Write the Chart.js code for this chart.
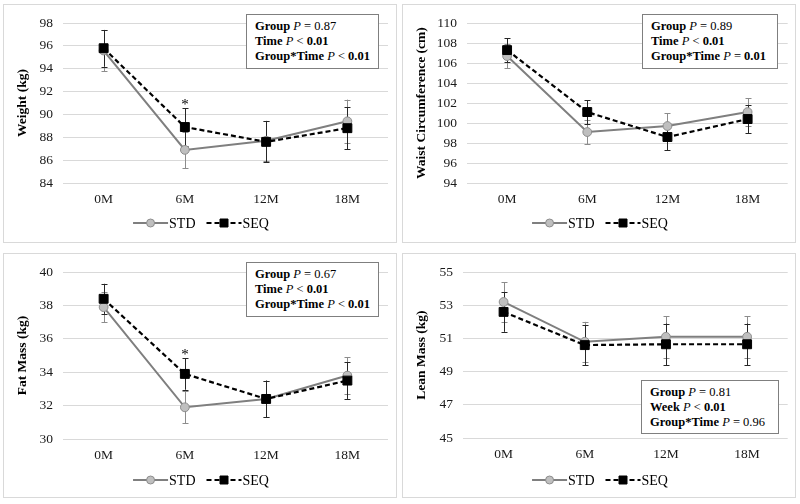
<!DOCTYPE html>
<html><head><meta charset="utf-8">
<script src="https://cdn.jsdelivr.net/npm/chart.js@4/dist/chart.umd.min.js"></script>
<style>
body{margin:0;background:#fff;width:800px;height:504px;position:relative;overflow:hidden;font-family:"Times New Roman","Liberation Serif","DejaVu Serif",serif}
.panel{position:absolute;border:1px solid #d9d9d9;box-sizing:border-box;background:#fff}
.panel canvas{position:absolute;left:0;top:0}
.ann{position:absolute;border:1px solid #7f7f7f;background:#fff;font-weight:bold;font-size:12.5px;color:#000;padding:4px 0 0 8px;box-sizing:border-box;line-height:15px;white-space:nowrap}
.ann i{font-weight:normal}
.ann .n{font-weight:normal}
</style></head><body>

<div class="panel" id="p1" style="left:3px;top:4px;width:394px;height:239px"><canvas id="c1" width="392" height="237"></canvas>
  <div class="ann" style="left:242px;top:9px;width:133px;height:55px">Group <i>P</i> <span class="n">= 0.87</span><br>Time <i>P</i> <span class="n">&lt;</span> 0.01<br>Group*Time <i>P</i> <span class="n">&lt;</span> 0.01</div>
</div>
<div class="panel" id="p2" style="left:402px;top:4px;width:394px;height:239px"><canvas id="c2" width="392" height="237"></canvas>
  <div class="ann" style="left:239px;top:9px;width:136px;height:55px">Group <i>P</i> <span class="n">= 0.89</span><br>Time <i>P</i> <span class="n">&lt;</span> 0.01<br>Group*Time <i>P</i> <span class="n">=</span> 0.01</div>
</div>
<div class="panel" id="p3" style="left:3px;top:253px;width:394px;height:245px"><canvas id="c3" width="392" height="243"></canvas>
  <div class="ann" style="left:242px;top:8px;width:133px;height:55px">Group <i>P</i> <span class="n">= 0.67</span><br>Time <i>P</i> <span class="n">&lt;</span> 0.01<br>Group*Time <i>P</i> <span class="n">&lt;</span> 0.01</div>
</div>
<div class="panel" id="p4" style="left:402px;top:253px;width:394px;height:245px"><canvas id="c4" width="392" height="243"></canvas>
  <div class="ann" style="left:238px;top:126px;width:138px;height:54px">Group <i>P</i> <span class="n">= 0.81</span><br>Week <i>P</i> <span class="n">&lt;</span> 0.01<br>Group*Time <i>P</i> <span class="n">= 0.96</span></div>
</div>

<script>
// ---- data ----
const months = ['0M', '6M', '12M', '18M'];
const seriesNames = ['STD', 'SEQ'];

const weightSTD = [95.6, 86.9, 87.7, 89.4];
const weightSTDerr = [1.8, 1.6, 1.75, 1.9];
const weightSEQ = [95.8, 88.9, 87.6, 88.8];
const weightSEQerr = [1.6, 1.65, 1.8, 1.85];
const weightSig = ['', '*', '', ''];
const weightTicks = [84, 98, 2];

const waistSTD = [106.7, 99.1, 99.7, 101.1];
const waistSTDerr = [1.2, 1.2, 1.3, 1.4];
const waistSEQ = [107.3, 101.1, 98.6, 100.4];
const waistSEQerr = [1.2, 1.2, 1.3, 1.4];
const waistSig = ['', '', '', ''];
const waistTicks = [94, 110, 2];

const fatSTD = [37.9, 31.9, 32.4, 33.8];
const fatSTDerr = [0.9, 0.95, 1.1, 1.1];
const fatSEQ = [38.4, 33.9, 32.4, 33.5];
const fatSEQerr = [0.9, 0.95, 1.1, 1.1];
const fatSig = ['', '*', '', ''];
const fatTicks = [30, 40, 2];

const leanSTD = [53.2, 50.8, 51.1, 51.1];
const leanSTDerr = [1.2, 1.2, 1.25, 1.25];
const leanSEQ = [52.6, 50.6, 50.65, 50.65];
const leanSEQerr = [1.2, 1.2, 1.25, 1.25];
const leanSig = ['', '', '', ''];
const leanTicks = [45, 55, 2];

// ---- styles ----
const FONT = '"Times New Roman", "Liberation Serif", "DejaVu Serif", serif';
const STD_LINE = '#7f7f7f', STD_FILL = '#bfbfbf';
const SEQ_LINE = '#000000';

const errorBarPlugin = {
  id: 'errorBars',
  beforeDatasetsDraw(chart) {
    const ctx = chart.ctx, ys = chart.scales.y;
    chart.data.datasets.forEach((ds, di) => {
      const meta = chart.getDatasetMeta(di);
      ctx.save();
      ctx.strokeStyle = ds.errColor; ctx.lineWidth = 1;
      meta.data.forEach((pt, i) => {
        const v = ds.data[i], e = ds.err[i];
        const yt = ys.getPixelForValue(v + e), yb = ys.getPixelForValue(v - e);
        const x = Math.round(pt.x) + 0.5;
        ctx.beginPath();
        ctx.moveTo(x, yt); ctx.lineTo(x, yb);
        ctx.moveTo(x - 3, Math.round(yt) + 0.5); ctx.lineTo(x + 3, Math.round(yt) + 0.5);
        ctx.moveTo(x - 3, Math.round(yb) + 0.5); ctx.lineTo(x + 3, Math.round(yb) + 0.5);
        ctx.stroke();
      });
      ctx.restore();
    });
  },
  afterDatasetsDraw(chart) {
    const ctx = chart.ctx, ys = chart.scales.y;
    const sig = chart.options.plugins.sigMarks || [];
    const di = 1, ds = chart.data.datasets[di], meta = chart.getDatasetMeta(di);
    ctx.save();
    ctx.fillStyle = '#000'; ctx.font = '15px ' + FONT; ctx.textAlign = 'center'; ctx.textBaseline = 'alphabetic';
    sig.forEach((s, i) => {
      if (!s) return;
      const yTop = ys.getPixelForValue(ds.data[i] + ds.err[i]);
      ctx.fillText(s, meta.data[i].x, yTop + 1);
    });
    ctx.restore();
  },
  afterDraw(chart) {
    const ctx = chart.ctx;
    const y = chart.chartArea.bottom + chart.options.plugins.legendOffset;
    ctx.save();
    ctx.font = '14px ' + FONT;
    const lineLen = 35, gapText = 1, gapItem = 11;
    const items = chart.data.datasets.map(ds => ({ ds, w: lineLen + gapText + ctx.measureText(ds.label).width }));
    const total = items.reduce((a, b) => a + b.w, 0) + gapItem * (items.length - 1);
    let x = chart.width / 2 - total / 2 + 1;
    items.forEach(({ ds, w }) => {
      ctx.save();
      ctx.strokeStyle = ds.borderColor; ctx.lineWidth = ds.borderWidth;
      ctx.setLineDash(ds.borderDash || []);
      ctx.beginPath(); ctx.moveTo(x, y); ctx.lineTo(x + lineLen, y); ctx.stroke();
      ctx.setLineDash([]);
      ctx.fillStyle = ds.pointBackgroundColor; ctx.strokeStyle = ds.pointBorderColor; ctx.lineWidth = 1;
      ctx.beginPath();
      if (ds.pointStyle === 'circle') { ctx.arc(x + lineLen / 2, y, 4, 0, Math.PI * 2); }
      else { ctx.rect(x + lineLen / 2 - 4, y - 4, 8, 8); }
      ctx.fill(); ctx.stroke();
      ctx.restore();
      ctx.fillStyle = '#000'; ctx.textBaseline = 'middle'; ctx.textAlign = 'left';
      ctx.fillText(ds.label, x + lineLen + gapText, y + 1);
      x += w + gapItem;
    });
    ctx.restore();
  }
};

function makeChart(id, title, std, stdErr, seq, seqErr, sig, ticks, leftW, plotBottom, padRight, legendOffset) {
  const canvas = document.getElementById(id);
  const H = canvas.height;
  return new Chart(canvas, {
    type: 'line',
    data: {
      labels: months,
      datasets: [
        { label: seriesNames[0], data: std, err: stdErr, errColor: '#8c8c8c', order: 2,
          borderColor: STD_LINE, borderWidth: 2, pointStyle: 'circle', pointRadius: 4.4,
          pointBackgroundColor: STD_FILL, pointBorderColor: '#8c8c8c', pointBorderWidth: 1, tension: 0 },
        { label: seriesNames[1], data: seq, err: seqErr, errColor: '#262626', order: 1,
          borderColor: SEQ_LINE, borderWidth: 2.2, borderDash: [5, 3], pointStyle: 'rect', pointRadius: 6.3,
          pointBackgroundColor: '#000', pointBorderColor: '#000', pointBorderWidth: 1, tension: 0 }
      ]
    },
    options: {
      responsive: false, animation: false,
      layout: { padding: { left: 0, right: padRight, top: 13, bottom: 0 } },
      plugins: { legend: { display: false }, tooltip: { enabled: false }, sigMarks: sig, legendOffset: legendOffset },
      scales: {
        x: {
          offset: true,
          grid: { display: false, drawTicks: false }, border: { display: false },
          ticks: { font: { family: FONT, size: 13.5 }, color: '#1a1a1a', padding: 8 },
          afterFit: s => { s.height = H - plotBottom; }
        },
        y: {
          min: ticks[0], max: ticks[1],
          grid: { color: '#d9d9d9', drawTicks: false }, border: { display: false },
          ticks: { stepSize: ticks[2], font: { family: FONT, size: 13.5 }, color: '#1a1a1a', padding: 10 },
          title: { display: true, text: title, font: { family: FONT, size: 13.5, weight: 'bold' }, color: '#000', padding: { top: 10, bottom: 0 } },
          afterFit: s => { s.width = leftW; }
        }
      }
    },
    plugins: [errorBarPlugin]
  });
}

makeChart('c1', 'Weight (kg)', weightSTD, weightSTDerr, weightSEQ, weightSEQerr, weightSig, weightTicks, 59, 178, 8, 40);
makeChart('c2', 'Waist Circumference (cm)', waistSTD, waistSTDerr, waistSEQ, waistSEQerr, waistSig, waistTicks, 64, 178, 6, 40);
makeChart('c3', 'Fat Mass (kg)', fatSTD, fatSTDerr, fatSEQ, fatSEQerr, fatSig, fatTicks, 59, 185, 8, 41);
makeChart('c4', 'Lean Mass (kg)', leanSTD, leanSTDerr, leanSEQ, leanSEQerr, leanSig, leanTicks, 60, 184, 6, 42);
</script>
</body></html>
